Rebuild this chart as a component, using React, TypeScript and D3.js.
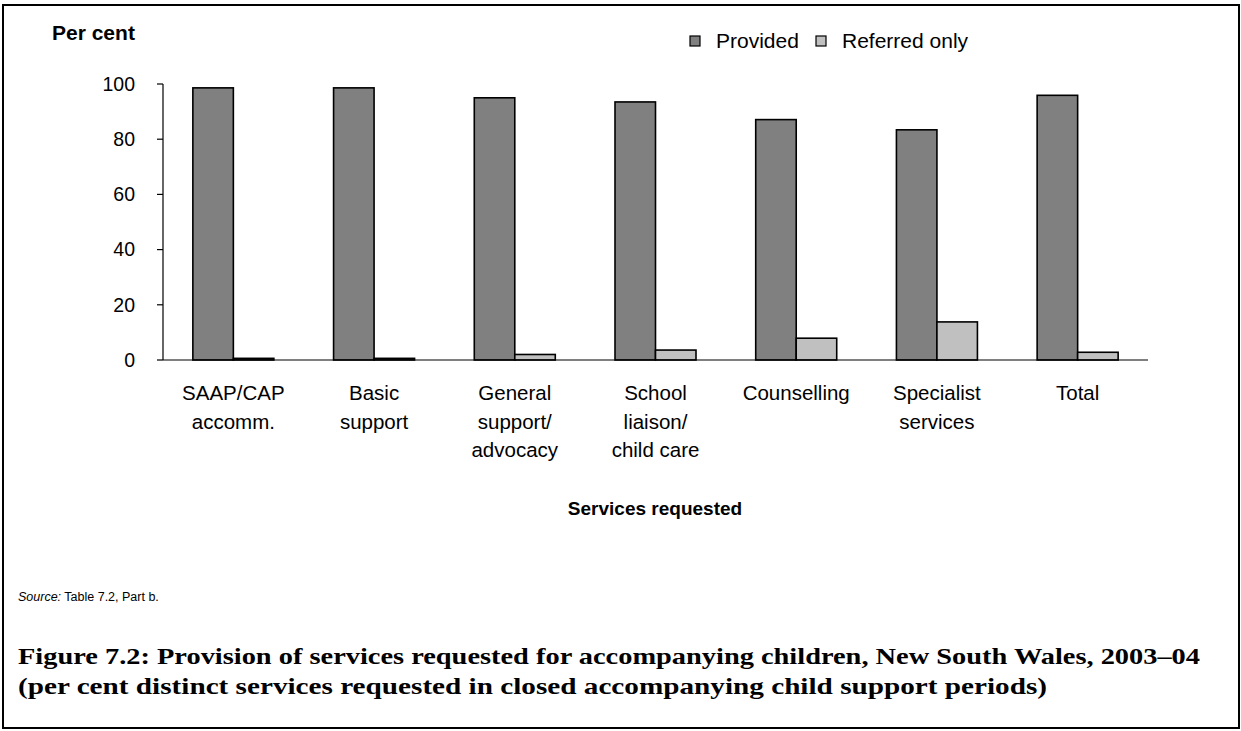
import React from "react";
import * as d3 from "d3";

const categories: string[][] = [
  ["SAAP/CAP", "accomm."],
  ["Basic", "support"],
  ["General", "support/", "advocacy"],
  ["School", "liaison/", "child care"],
  ["Counselling"],
  ["Specialist", "services"],
  ["Total"],
];
const seriesNames = ["Provided", "Referred only"];
const provided = [98.6, 98.6, 95.0, 93.5, 87.1, 83.4, 95.9];
const referred = [0.6, 0.6, 2.0, 3.6, 7.9, 13.8, 2.8];
const yTicks = [0, 20, 40, 60, 80, 100];
const colors = ["#808080", "#c0c0c0"];

const W = 1241;
const H = 731;
const sans = "Arial, 'Liberation Sans', sans-serif";
const serif = "'Liberation Serif', 'Times New Roman', serif";

export default function App() {
  const x0 = d3
    .scaleBand<number>()
    .domain(categories.map((_, i) => i))
    .range([163, 1148])
    .padding(0);
  const bw = x0.bandwidth();
  const pairW = 81;
  const x1 = d3
    .scaleBand<string>()
    .domain(seriesNames)
    .range([(bw - pairW) / 2, (bw + pairW) / 2])
    .padding(0);
  const y = d3.scaleLinear().domain([0, 100]).range([360, 84]);
  const series = [provided, referred];

  const legendX = [690, 816];

  return (
    <svg
      width={W}
      height={H}
      style={{ position: "absolute", left: 0, top: 0, background: "#fff" }}
      fontFamily={sans}
    >
      <rect x={0} y={0} width={W} height={H} fill="#fff" />
      <rect x={3} y={5} width={1236} height={723} fill="none" stroke="#000" strokeWidth={2} />

      {/* Y axis */}
      <line x1={163} x2={163} y1={y(100)} y2={y(0)} stroke="#000" strokeWidth={1.2} />
      {yTicks.map((t) => (
        <g key={t}>
          <line x1={157} x2={163} y1={y(t)} y2={y(t)} stroke="#000" strokeWidth={1.2} />
          <text x={135} y={y(t)} dy="0.35em" textAnchor="end" fontSize={19.5}>
            {t}
          </text>
        </g>
      ))}
      <text x={52} y={40} fontSize={21} fontWeight="bold">
        Per cent
      </text>

      {/* Bars */}
      {categories.map((_, i) =>
        series.map((s, j) => (
          <rect
            key={`${i}-${j}`}
            x={(x0(i) as number) + (x1(seriesNames[j]) as number)}
            y={y(s[i])}
            width={x1.bandwidth()}
            height={y(0) - y(s[i])}
            fill={colors[j]}
            stroke="#000"
            strokeWidth={1.6}
          />
        ))
      )}

      {/* X axis */}
      <line x1={163} x2={1148} y1={y(0)} y2={y(0)} stroke="#000" strokeWidth={1.2} />
      {categories.map((lines, i) => (
        <text
          key={i}
          x={(x0(i) as number) + bw / 2}
          y={400}
          textAnchor="middle"
          fontSize={20.5}
        >
          {lines.map((l, k) => (
            <tspan key={k} x={(x0(i) as number) + bw / 2} dy={k === 0 ? 0 : 28.5}>
              {l}
            </tspan>
          ))}
        </text>
      ))}
      <text x={655} y={515} textAnchor="middle" fontSize={19} fontWeight="bold">
        Services requested
      </text>

      {/* Legend */}
      {seriesNames.map((n, j) => (
        <g key={n}>
          <rect
            x={legendX[j]}
            y={36}
            width={10}
            height={10}
            fill={colors[j]}
            stroke="#000"
            strokeWidth={1.2}
          />
          <text x={legendX[j] + 26} y={41} dy="0.35em" fontSize={21}>
            {n}
          </text>
        </g>
      ))}

      {/* Source */}
      <text x={18} y={601} fontSize={12.5}>
        <tspan fontStyle="italic">Source:</tspan>
        <tspan> Table 7.2, Part b.</tspan>
      </text>

      {/* Caption */}
      <text x={18} y={664} fontFamily={serif} fontWeight="bold" fontSize={23}
        textLength={1182} lengthAdjust="spacingAndGlyphs">
        Figure 7.2: Provision of services requested for accompanying children, New South Wales, 2003–04
      </text>
      <text x={18} y={694} fontFamily={serif} fontWeight="bold" fontSize={23}
        textLength={1029} lengthAdjust="spacingAndGlyphs">
        (per cent distinct services requested in closed accompanying child support periods)
      </text>
    </svg>
  );
}
